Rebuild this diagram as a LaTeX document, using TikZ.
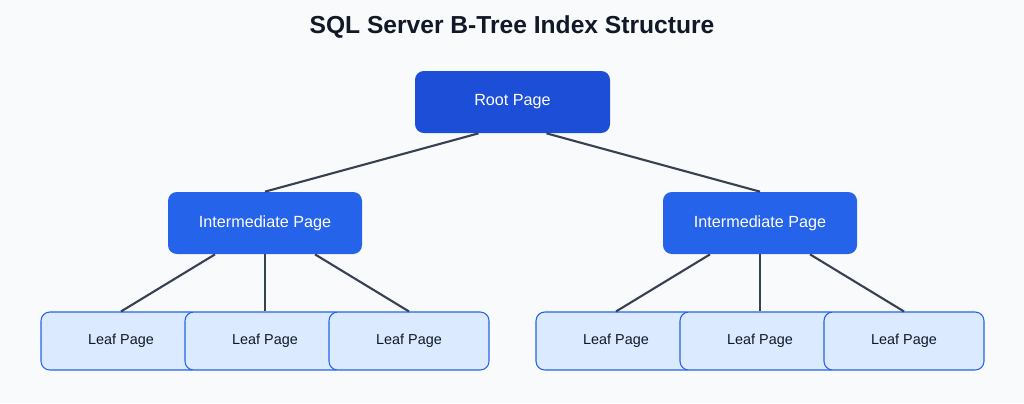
\documentclass[tikz,border=0pt]{standalone}
\usepackage{fontspec}
\setmainfont{Liberation Sans}
\usetikzlibrary{calc}
\definecolor{bg}{HTML}{F8FAFC}
\definecolor{rootc}{HTML}{1D4ED8}
\definecolor{midc}{HTML}{2563EB}
\definecolor{leaff}{HTML}{DBEAFE}
\definecolor{linec}{HTML}{374151}
\definecolor{titlec}{HTML}{111827}
\begin{document}
\begin{tikzpicture}[x=0.02cm,y=-0.02cm,
  root/.style={fill=rootc,draw=none,rounded corners=5pt,minimum width=195*0.02cm,minimum height=62*0.02cm,text=white,font=\fontsize{9.2}{11}\selectfont},
  mid/.style={fill=midc,draw=none,rounded corners=5pt,minimum width=194*0.02cm,minimum height=62*0.02cm,text=white,font=\fontsize{9.2}{11}\selectfont},
  leaf/.style={fill=leaff,draw=midc,line width=0.6pt,rounded corners=5pt,minimum width=160*0.02cm,minimum height=58*0.02cm,text=titlec,font=\fontsize{8.2}{10}\selectfont},
  conn/.style={draw=linec,line width=1.2pt}]
\fill[bg] (0,0) rectangle (1024,403);
\useasboundingbox (0,0) rectangle (1024,403);
\node[font=\bfseries\fontsize{14}{16}\selectfont,text=titlec] (title) at (512,27) {SQL Server B-Tree Index Structure};
\node[root] (root) at (512.5,102) {Root Page};
\node[mid] (m1) at (265,223) {Intermediate Page};
\node[mid] (m2) at (760,223) {Intermediate Page};
\node[leaf] (l1) at (121,341) {Leaf Page};
\node[leaf] (l2) at (265,341) {Leaf Page};
\node[leaf] (l3) at (409,341) {Leaf Page};
\node[leaf] (l4) at (616,341) {Leaf Page};
\node[leaf] (l5) at (760,341) {Leaf Page};
\node[leaf] (l6) at (904,341) {Leaf Page};
\draw[conn] ($(root.south)+(-34,0)$) -- (m1.north);
\draw[conn] ($(root.south)+(34,0)$) -- (m2.north);
\foreach \m/\a/\b/\c in {m1/l1/l2/l3,m2/l4/l5/l6}{
  \draw[conn] ($(\m.south)+(-50,0)$) -- (\a.north);
  \draw[conn] (\m.south) -- (\b.north);
  \draw[conn] ($(\m.south)+(50,0)$) -- (\c.north);
}
\end{tikzpicture}
\end{document}
